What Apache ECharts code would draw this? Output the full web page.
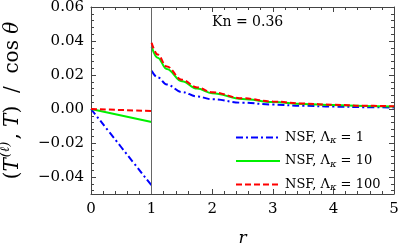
<!DOCTYPE html>
<html>
<head>
<meta charset="utf-8">
<script src="https://cdn.jsdelivr.net/npm/echarts@6/dist/echarts.min.js"></script>
<style>html,body{margin:0;padding:0;background:#fff}#c{width:399px;height:250px}</style>
</head>
<body>
<div id="c"></div>
<script>
// ---- data ----
const seriesNames = ['NSF, Λκ = 1', 'NSF, Λκ = 10', 'NSF, Λκ = 100'];
const legendLabels = ['1', '10', '100'];
const innerR = [0, 1];
const innerBlue = [0, -0.045];
const innerGreen = [0, -0.0076];
const innerRed = [0, -0.0012];
const outerR = [1, 1.1, 1.25, 1.5, 1.75, 2, 2.5, 3, 3.5, 4, 4.5, 5];
const outerBlue  = [0.0225, 0.0186, 0.0144, 0.0100, 0.0074, 0.0057, 0.0037, 0.0026, 0.0019, 0.0014, 0.0011, 0.0009];
const outerGreen = [0.0367, 0.0302, 0.0235, 0.0163, 0.0120, 0.0092, 0.0059, 0.0041, 0.0030, 0.0023, 0.0018, 0.0015];
const outerRed   = [0.0390, 0.0320, 0.0250, 0.0172, 0.0127, 0.0098, 0.0063, 0.0044, 0.0032, 0.0025, 0.0019, 0.0016];
const xTicks = [0, 1, 2, 3, 4, 5];
const yTicks = [-0.04, -0.02, 0.00, 0.02, 0.04, 0.06];
const annotation = 'Kn = 0.36';

// ---- build ----
function build(inner, outer) {
  const d = innerR.map((r, i) => [r, inner[i]]);
  d.push([1, '-']);
  outerR.forEach((r, i) => d.push([r, outer[i]]));
  return d;
}
const yMinor = [];
for (let i = 0; i < yTicks.length; i++) {
  for (let k = 1; k <= 4; k++) {
    yMinor.push(+(yTicks[i] + k * 0.004).toFixed(3));
    if (i === 0 && k <= 2) yMinor.push(+(yTicks[0] - k * 0.004).toFixed(3));
  }
}
const yMinorIn = yMinor.filter(v => v > -0.0501 && v < 0.0601);
const FONT = 'DejaVu Serif';
const AX = '#444';
const fmtY = v => (v < 0 ? '−' : '') + Math.abs(v).toFixed(2);

function yAx(pos, values, len, showLabel, showLine) {
  return {
    type: 'value', position: pos, min: -0.05, max: 0.06,
    axisLine: { show: showLine, onZero: false, lineStyle: { color: AX, width: 1 } },
    axisTick: { show: true, inside: true, length: len, customValues: values, lineStyle: { color: AX } },
    axisLabel: { show: showLabel, customValues: values, formatter: fmtY, fontFamily: FONT, fontSize: 15, color: '#000', margin: 7 },
    splitLine: { show: false }
  };
}
function xAx(pos, showLabel) {
  return {
    type: 'value', position: pos, min: 0, max: 5, interval: 1,
    axisLine: { show: true, onZero: false, lineStyle: { color: AX, width: 1 } },
    axisTick: { show: true, inside: true, length: 5, lineStyle: { color: AX } },
    minorTick: { show: true, splitNumber: 5, length: 3, lineStyle: { color: AX } },
    axisLabel: { show: showLabel, fontFamily: FONT, fontSize: 15, color: '#000', margin: 8 },
    splitLine: { show: false }, minorSplitLine: { show: false }
  };
}
const bottomX = xAx('bottom', true);
bottomX.name = 'r';
bottomX.nameLocation = 'middle';
bottomX.nameGap = 36;
bottomX.nameTextStyle = { fontFamily: FONT, fontStyle: 'italic', fontSize: 17, color: '#000' };

const leftY = yAx('left', yTicks, 5, true, true);
leftY.name = '{p|(}{i|T}{s|(ℓ)}{p|, }{i|T}{p|)  /  cos }{i|θ}';
leftY.nameLocation = 'middle';
leftY.nameGap = 68;
leftY.nameRotate = 90;
leftY.nameTextStyle = {
  color: '#000',
  rich: {
    p: { fontFamily: FONT, fontSize: 20, color: '#000', verticalAlign: 'bottom' },
    i: { fontFamily: FONT, fontSize: 20, fontStyle: 'italic', color: '#000', verticalAlign: 'bottom' },
    s: { fontFamily: FONT, fontSize: 13, fontStyle: 'italic', color: '#000', verticalAlign: 'top', padding: [0, 2, 11, 1] }
  }
};

const lineW = 2;
const chart = echarts.init(document.getElementById('c'));
chart.setOption({
  animation: false,
  title: { text: annotation, left: 207, top: 10, textStyle: { fontFamily: FONT, fontSize: 14, fontWeight: 'normal', color: '#000' } },
  grid: { left: 91, right: 5, top: 7, bottom: 56, containLabel: false, outerBoundsMode: 'none' },
  xAxis: [bottomX, xAx('top', false)],
  yAxis: [leftY, yAx('left', yMinorIn, 3, false, false), yAx('right', yTicks, 5, false, true), yAx('right', yMinorIn, 3, false, false)],
  legend: {
    orient: 'vertical', left: 230, top: 126, itemWidth: 44, itemHeight: 10, itemGap: 9,
    data: seriesNames,
    icon: 'inherit',
    itemStyle: { opacity: 0 },
    formatter: name => '{t|NSF, Λ}{s|κ}{t| = ' + legendLabels[seriesNames.indexOf(name)] + '}',
    textStyle: {
      color: '#000',
      rich: {
        t: { fontFamily: FONT, fontSize: 13, color: '#000' },
        s: { fontFamily: FONT, fontSize: 10, fontStyle: 'italic', color: '#000', verticalAlign: 'bottom', padding: [6, 0, 0, 0] }
      }
    }
  },
  series: [
    { name: seriesNames[0], type: 'line', data: build(innerBlue, outerBlue), symbol: 'none', smooth: 0.4, smoothMonotone: 'x',
      lineStyle: { color: '#0000ff', width: lineW, type: [7, 3, 2, 3] }, itemStyle: { color: '#0000ff' }, z: 3 },
    { name: seriesNames[1], type: 'line', data: build(innerGreen, outerGreen), symbol: 'none', smooth: 0.4, smoothMonotone: 'x',
      lineStyle: { color: '#00f000', width: lineW, type: 'solid' }, itemStyle: { color: '#00f000' }, z: 4 },
    { name: seriesNames[2], type: 'line', data: build(innerRed, outerRed), symbol: 'none', smooth: 0.4, smoothMonotone: 'x',
      lineStyle: { color: '#ff0000', width: lineW, type: [6, 3] }, itemStyle: { color: '#ff0000' }, z: 5,
      markLine: { silent: true, symbol: 'none', label: { show: false }, animation: false,
        lineStyle: { color: '#666', type: 'solid', width: 1 }, data: [{ xAxis: 1 }] } }
  ]
});
</script>
</body>
</html>
